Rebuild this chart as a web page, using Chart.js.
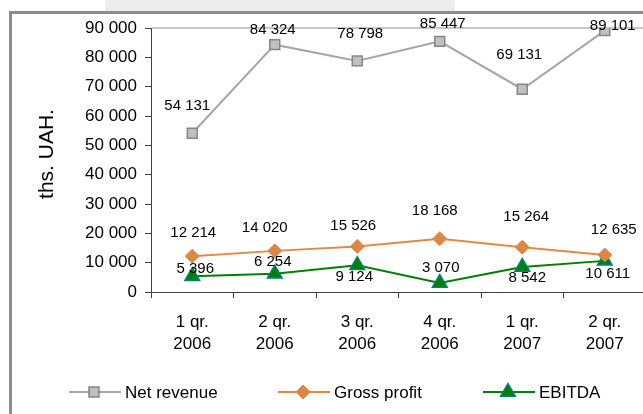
<!DOCTYPE html>
<html>
<head>
<meta charset="utf-8">
<script src="https://cdn.jsdelivr.net/npm/chart.js@4.4.1/dist/chart.umd.min.js"></script>
<style>
  html, body { margin: 0; padding: 0; background: #fff; overflow: hidden; }
  body { width: 643px; height: 414px; position: relative; }
  #titleStrip { position: absolute; left: 105px; top: 0; width: 350px; height: 11px; background: #ececec; }
  #frame { position: absolute; left: 9px; top: 11px; width: 700px; height: 420px;
           border-left: 3px solid #8c8c8c; border-top: 3px solid #8c8c8c; }
  #wrap { position: absolute; left: 0; top: 0; width: 656px; height: 414px; }
</style>
</head>
<body>
<div id="titleStrip"></div>
<div id="frame"></div>
<div id="wrap"><canvas id="finChart" width="656" height="414"></canvas></div>
<script>
// quarterly figures, ths. UAH
var quarters = [['1 qr.', '2006'], ['2 qr.', '2006'], ['3 qr.', '2006'], ['4 qr.', '2006'], ['1 qr.', '2007'], ['2 qr.', '2007']];
var netRevenue = [54131, 84324, 78798, 85447, 69131, 89101];
var grossProfit = [12214, 14020, 15526, 18168, 15264, 12635];
var ebitda = [5396, 6254, 9124, 3070, 8542, 10611];
var yMin = 0, yMax = 90000, yStep = 10000;

// where each value label sits relative to its point (dx, dy)
var netLabelShift = [[-5, -27], [-2, -15], [3, -27], [3, -17], [-3, -34], [8, -5]];
var grossLabelShift = [[1, -23], [-10, -23], [-4, -21], [-5, -28], [4, -30], [9, -25]];
var ebitdaLabelShift = [[3, -7], [-2, -12], [-3, 12], [1, -15], [5, 11], [3, 13]];

var FONT = '"Liberation Sans", Arial, sans-serif';

function spaced(n) {
    return String(n).replace(/\B(?=(\d{3})+(?!\d))/g, ' ');
}

var valueLabels = {
    id: 'valueLabels',
    afterDatasetsDraw: function (chart) {
        var ctx = chart.ctx;
        var shifts = [netLabelShift, grossLabelShift, ebitdaLabelShift];
        ctx.save();
        ctx.font = '15px ' + FONT;
        ctx.fillStyle = '#000';
        ctx.textAlign = 'center';
        ctx.textBaseline = 'middle';
        chart.data.datasets.forEach(function (ds, di) {
            var meta = chart.getDatasetMeta(di);
            meta.data.forEach(function (pt, i) {
                var s = shifts[di][i];
                ctx.fillText(spaced(ds.data[i]), pt.x + s[0], pt.y + s[1]);
            });
        });
        ctx.restore();
    }
};

var plotFrame = {
    id: 'plotFrame',
    beforeDatasetsDraw: function (chart) {
        var a = chart.chartArea, ctx = chart.ctx;
        ctx.save();
        ctx.strokeStyle = '#c8c8c8';
        ctx.lineWidth = 2;
        ctx.beginPath();
        ctx.moveTo(a.left + 1, a.top);
        ctx.lineTo(a.right, a.top);
        ctx.stroke();
        ctx.restore();
    },
    afterDraw: function (chart) {
        var ctx = chart.ctx;
        // axis title
        ctx.save();
        ctx.translate(47, 154);
        ctx.rotate(-Math.PI / 2);
        ctx.font = '21px ' + FONT;
        ctx.fillStyle = '#000';
        ctx.textAlign = 'center';
        ctx.textBaseline = 'middle';
        ctx.fillText('ths. UAH.', 0, 0);
        ctx.restore();

        // legend: line sample with marker, then the name
        var starts = [69, 278, 483];
        ctx.save();
        chart.data.datasets.forEach(function (ds, di) {
            var x0 = starts[di], y = 392;
            ctx.strokeStyle = ds.borderColor;
            ctx.lineWidth = ds.borderWidth;
            ctx.beginPath();
            ctx.moveTo(x0, y);
            ctx.lineTo(x0 + 52, y);
            ctx.stroke();
            ctx.fillStyle = ds.pointBackgroundColor;
            ctx.strokeStyle = ds.pointBorderColor;
            ctx.lineWidth = ds.pointBorderWidth;
            Chart.helpers.drawPoint(ctx, {
                pointStyle: ds.pointStyle,
                radius: ds.pointRadius,
                borderWidth: ds.pointBorderWidth,
                rotation: 0
            }, x0 + 25, y);
            ctx.font = '17px ' + FONT;
            ctx.fillStyle = '#000';
            ctx.textAlign = 'left';
            ctx.textBaseline = 'middle';
            ctx.fillText(ds.label, x0 + 56, y + 1);
        });
        ctx.restore();
    }
};

new Chart(document.getElementById('finChart').getContext('2d'), {
    type: 'line',
    data: {
        labels: quarters,
        datasets: [{
            label: 'Net revenue',
            data: netRevenue,
            borderColor: '#a6a6a6',
            borderWidth: 2,
            pointStyle: 'rect',
            pointRadius: 7,
            pointBackgroundColor: '#c0c0c0',
            pointBorderColor: '#858585',
            pointBorderWidth: 1.5
        }, {
            label: 'Gross profit',
            data: grossProfit,
            borderColor: '#e08a45',
            borderWidth: 2,
            pointStyle: 'rectRot',
            pointRadius: 7,
            pointBackgroundColor: '#dd8744',
            pointBorderColor: '#dd8744',
            pointBorderWidth: 1
        }, {
            label: 'EBITDA',
            data: ebitda,
            borderColor: '#008000',
            borderWidth: 2,
            pointStyle: 'triangle',
            pointRadius: 8.5,
            pointBackgroundColor: '#008000',
            pointBorderColor: '#008080',
            pointBorderWidth: 1.5
        }]
    },
    options: {
        responsive: false,
        animation: false,
        layout: { padding: { left: 0, top: 28, right: 10, bottom: 0 } },
        plugins: { legend: { display: false }, tooltip: { enabled: false } },
        elements: { line: { tension: 0 } },
        scales: {
            x: {
                offset: true,
                grid: { offset: true, drawOnChartArea: false, drawTicks: true, tickLength: 6, color: '#404040' },
                border: { display: true, color: '#404040', width: 1 },
                ticks: { color: '#000', padding: 14, maxRotation: 0, font: { family: FONT, size: 17, lineHeight: 1.25 } },
                afterFit: function (scale) { scale.height = 122; }
            },
            y: {
                min: yMin,
                max: yMax,
                grid: { drawOnChartArea: false, drawTicks: true, tickLength: 6, color: '#404040' },
                border: { display: true, color: '#404040', width: 1 },
                ticks: {
                    stepSize: yStep,
                    color: '#000',
                    padding: 8,
                    font: { family: FONT, size: 17 },
                    callback: function (v) { return spaced(v); }
                },
                afterFit: function (scale) { scale.width = 151; }
            }
        }
    },
    plugins: [plotFrame, valueLabels]
});
</script>
</body>
</html>
